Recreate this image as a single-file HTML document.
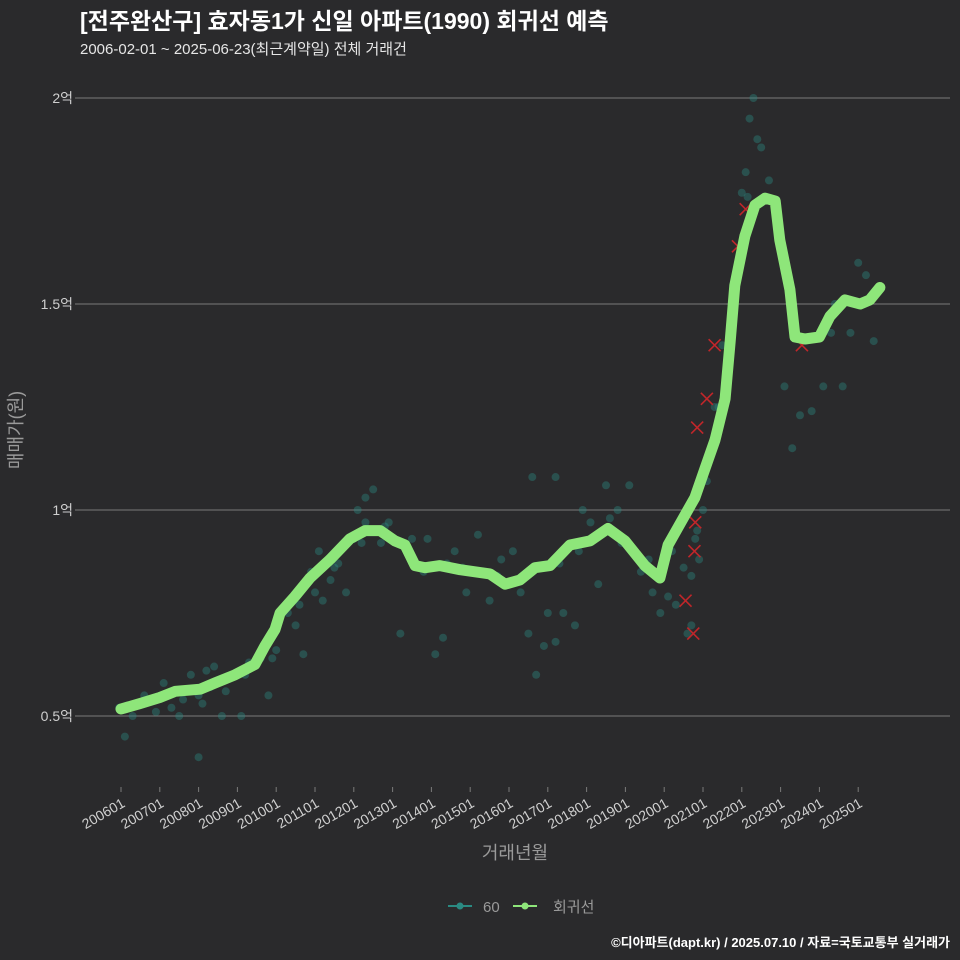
<!DOCTYPE html>
<html><head><meta charset="utf-8"><style>
html,body{margin:0;padding:0;background:#2a2a2c;}
svg{display:block;font-family:"Liberation Sans","Noto Sans CJK KR",sans-serif;}
</style></head><body>
<svg id="chart" width="960" height="960" viewBox="0 0 960 960">
<rect width="960" height="960" fill="#2a2a2c"/>
<text x="80" y="29" fill="#ffffff" font-size="23" font-weight="bold">[전주완산구] 효자동1가 신일 아파트(1990) 회귀선 예측</text>
<text x="80" y="54" fill="#e6e6e6" font-size="15">2006-02-01 ~ 2025-06-23(최근계약일) 전체 거래건</text>
<g id="grid"></g>
<g id="yticks"></g>
<g id="xticks"></g>
<g id="dots"></g>
<g id="marks"></g>
<path id="reg" fill="none" stroke="#8ee67a" stroke-width="11" stroke-linejoin="round" stroke-linecap="round"/>
<text x="515" y="859" fill="#9a9a9a" font-size="18" text-anchor="middle">거래년월</text>
<text transform="translate(22,430) rotate(-90)" fill="#9a9a9a" font-size="18" text-anchor="middle">매매가(원)</text>
<g>
<g><line x1="448" y1="906" x2="472" y2="906" stroke="#2a8a82" stroke-width="2"/><circle cx="460" cy="906" r="3.5" fill="#2a8a82"/><text x="483" y="912" fill="#9a9a9a" font-size="15">60</text></g>
<g><line x1="513" y1="906" x2="537" y2="906" stroke="#8ee67a" stroke-width="2"/><circle cx="525" cy="906" r="3.5" fill="#8ee67a"/><text x="553" y="912" fill="#9a9a9a" font-size="15">회귀선</text></g>
</g>
<text x="950" y="947" fill="#ffffff" font-size="13" font-weight="bold" text-anchor="end">©디아파트(dapt.kr) / 2025.07.10 / 자료=국토교통부 실거래가</text>
</svg>
<script>
const yTicks=[0.5,1,1.5,2];
const yTickLabels=["0.5억","1억","1.5억","2억"];
const xTickYears=[2006,2007,2008,2009,2010,2011,2012,2013,2014,2015,2016,2017,2018,2019,2020,2021,2022,2023,2024,2025];
const regDates=[2006.0,2006.49,2007.0,2007.4,2008.04,2008.42,2008.94,2009.45,2009.71,2009.97,2010.1,2010.48,2010.87,2011.39,2011.9,2012.29,2012.68,2013.06,2013.32,2013.58,2013.84,2014.22,2014.74,2015.51,2015.9,2016.28,2016.67,2017.06,2017.57,2018.09,2018.55,2018.99,2019.5,2019.89,2020.1,2020.4,2020.79,2021.05,2021.31,2021.57,2021.7,2021.82,2022.08,2022.34,2022.6,2022.86,2022.98,2023.24,2023.37,2023.63,2024.0,2024.27,2024.66,2025.05,2025.3,2025.56];
const regValues=[0.517,0.53,0.545,0.56,0.565,0.58,0.6,0.625,0.67,0.71,0.75,0.79,0.835,0.88,0.93,0.95,0.95,0.925,0.915,0.865,0.86,0.865,0.855,0.845,0.82,0.83,0.86,0.865,0.915,0.925,0.955,0.925,0.865,0.835,0.915,0.965,1.03,1.1,1.17,1.27,1.41,1.545,1.665,1.74,1.757,1.75,1.655,1.535,1.42,1.415,1.42,1.47,1.51,1.5,1.51,1.54];
const dotDates=[2006.1,2006.3,2006.6,2006.9,2007.1,2007.3,2007.5,2007.8,2008.0,2008.1,2008.2,2008.4,2008.6,2008.9,2009.1,2009.3,2009.6,2009.8,2010.0,2010.3,2010.5,2010.7,2010.9,2011.1,2011.2,2011.4,2011.6,2011.8,2012.0,2012.1,2012.3,2012.5,2012.7,2012.9,2013.2,2013.5,2013.8,2014.1,2014.3,2014.6,2014.9,2015.2,2015.5,2015.8,2016.1,2016.3,2016.5,2016.7,2016.9,2017.0,2017.2,2017.4,2017.7,2017.9,2018.1,2018.3,2018.5,2018.8,2019.1,2019.4,2019.7,2019.9,2020.1,2020.3,2020.5,2020.6,2020.7,2020.8,2020.9,2021.0,2021.1,2021.3,2021.5,2021.7,2021.9,2022.0,2022.1,2022.2,2022.3,2022.4,2022.5,2022.7,2022.9,2023.1,2023.3,2023.5,2023.8,2024.1,2024.4,2024.6,2024.8,2025.0,2025.2,2025.4,2005.95,2008.0,2012.3,2013.9,2016.6,2017.2,2018.6,2019.2,2020.7,2021.4,2006.5,2007.2,2007.6,2008.3,2008.7,2009.2,2009.9,2010.6,2011.0,2011.5,2012.2,2012.8,2013.4,2014.0,2014.4,2014.8,2015.3,2015.7,2016.0,2016.4,2017.3,2017.8,2018.2,2018.9,2019.6,2020.2,2020.85,2021.2,2021.6,2021.8,2022.15,2023.4,2024.3];
const dotValues=[0.45,0.5,0.55,0.51,0.58,0.52,0.5,0.6,0.55,0.53,0.61,0.62,0.5,0.6,0.5,0.63,0.64,0.55,0.66,0.75,0.72,0.65,0.85,0.9,0.78,0.83,0.87,0.8,0.93,1.0,1.03,1.05,0.92,0.97,0.7,0.93,0.85,0.65,0.69,0.9,0.8,0.94,0.78,0.88,0.9,0.8,0.7,0.6,0.67,0.75,1.08,0.75,0.72,1.0,0.97,0.82,1.06,1.0,1.06,0.85,0.8,0.75,0.79,0.77,0.86,0.7,0.72,0.93,0.88,1.0,1.07,1.25,1.4,1.45,1.6,1.77,1.82,1.95,2.0,1.9,1.88,1.8,1.73,1.3,1.15,1.23,1.24,1.3,1.5,1.3,1.43,1.6,1.57,1.41,0.52,0.4,0.97,0.93,1.08,0.68,0.98,0.9,0.84,1.25,0.53,0.55,0.54,0.57,0.56,0.6,0.64,0.77,0.8,0.86,0.92,0.96,0.9,0.86,0.87,0.86,0.85,0.84,0.82,0.84,0.87,0.9,0.93,0.92,0.88,0.9,0.95,1.15,1.33,1.55,1.76,1.43,1.43];
const markDates=[2020.55,2020.75,2020.78,2020.8,2020.85,2021.1,2021.3,2021.9,2022.1,2023.55];
const markValues=[0.78,0.7,0.9,0.97,1.2,1.27,1.4,1.64,1.73,1.4];
const xS=t=>121+(t-2006)*38.8;
const yS=v=>716-(v-0.5)*412;
const NS="http://www.w3.org/2000/svg";
const mk=(tag,attrs,parent)=>{const e=document.createElementNS(NS,tag);for(const k in attrs)e.setAttribute(k,attrs[k]);parent.appendChild(e);return e;};
const grid=document.getElementById('grid'),yt=document.getElementById('yticks'),xt=document.getElementById('xticks');
yTicks.forEach((v,i)=>{
 const l=mk('line',{x1:80,x2:950,y1:yS(v),y2:yS(v),stroke:'#7a7a7a','stroke-width':1},grid);
 
 
 const tk=mk('line',{x1:75,x2:80,y1:yS(v),y2:yS(v),stroke:'#7a7a7a'},yt);
 
 
 const t=mk('text',{x:73,y:yS(v)+5,fill:'#cfcfcf','font-size':14,'text-anchor':'end'},yt);
 t.textContent=yTickLabels[i];
 
 
});
xTickYears.forEach(y=>{
 const x=xS(y);
 const tk=mk('line',{x1:x,x2:x,y1:787,y2:792,stroke:'#7a7a7a'},xt);
 
 
 const t=mk('text',{transform:`translate(${x+5},${806}) rotate(-30)`,fill:'#cfcfcf','font-size':14,'text-anchor':'end'},xt);
 t.textContent=y+'01';
 
 
});
const dots=document.getElementById('dots');
dotDates.forEach((d,i)=>{
 const c=mk('circle',{cx:xS(d),cy:yS(dotValues[i]),r:4,fill:'#2a8a82','fill-opacity':0.4},dots);
 
 
});
const marks=document.getElementById('marks');
markDates.forEach((d,i)=>{
 const x=xS(d),y=yS(markValues[i]);
 const p=mk('path',{d:`M${x-6},${y-6}L${x+6},${y+6}M${x-6},${y+6}L${x+6},${y-6}`,stroke:'#c0262a','stroke-width':1.6},marks);
 
 
});
document.getElementById('reg').setAttribute('d',regDates.map((d,i)=>(i?'L':'M')+xS(d).toFixed(1)+','+yS(regValues[i]).toFixed(1)).join(''));
</script>
</body></html>
